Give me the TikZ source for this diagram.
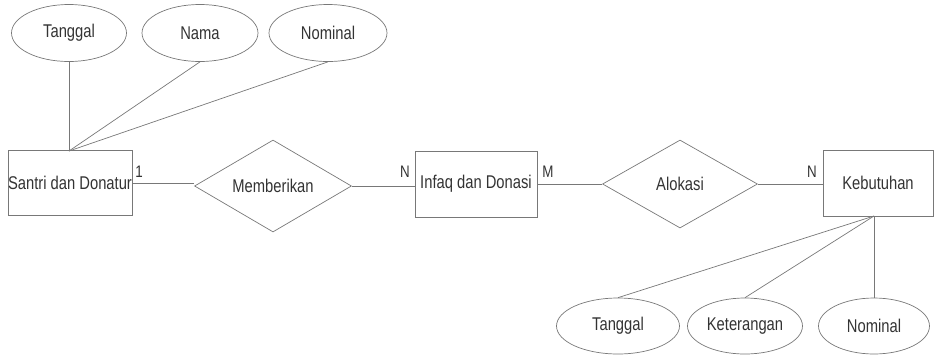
\documentclass[tikz,border=0pt]{standalone}
\usepackage{fontspec}
\setmainfont{Liberation Sans}[FakeStretch=0.8]
\usetikzlibrary{shapes.geometric}
\definecolor{lineg}{RGB}{120,120,120}

\tikzset{
    entity/.style={draw=lineg, rectangle, minimum width=2.42cm, minimum height=1.3cm, inner sep=0pt},
    attrib/.style={draw=lineg, ellipse, minimum height=1.14cm, inner sep=0pt},
    relation/.style={draw=lineg, diamond, aspect=1.7, minimum width=3.12cm, minimum height=1.8cm, inner sep=0pt},
    card/.style={font=\fontsize{9.5}{11}\selectfont, inner sep=0pt},
    conn/.style={draw=lineg}
}

\begin{document}
\begin{tikzpicture}[x=0.02cm, y=-0.02cm, font=\fontsize{10.5}{12}\selectfont, text=black!80]
    \useasboundingbox (0,0) rectangle (934,356);

    % entities
    \node[entity] (santri) at (70,183) {Santri dan Donatur};
    \node[entity, minimum width=2.44cm, minimum height=1.32cm] (infaq) at (476,184) {Infaq dan Donasi};
    \node[entity, minimum width=2.2cm, minimum height=1.32cm] (kebutuhan) at (878,183) {Kebutuhan};

    % relations
    \node[relation, minimum width=3.14cm, minimum height=1.84cm] (memberikan) at (273,186) {Memberikan};
    \node[relation, minimum width=3.1cm, minimum height=1.76cm] (alokasi) at (680,184) {Alokasi};

    % attributes of santri
    \node[attrib, minimum width=2.3cm] (tgl1) at (69,33) {Tanggal};
    \node[attrib, minimum width=2.32cm] (nama) at (200,33) {Nama};
    \node[attrib, minimum width=2.36cm] (nom1) at (328,33) {Nominal};

    % attributes of kebutuhan
    \node[attrib, minimum width=2.46cm, minimum height=1.12cm] (tgl2) at (618,326) {Tanggal};
    \node[attrib, minimum width=2.3cm, minimum height=1.12cm] (ket) at (745,326) {Keterangan};
    \node[attrib, minimum width=2.22cm, minimum height=1.12cm] (nom2) at (874,326) {Nominal};

    % connectors
    \coordinate (stop) at (69,151);
    \coordinate (kbot) at (874,216);
    \draw[conn] (tgl1.south) -- (stop);
    \draw[conn] (nama.south) -- (stop);
    \draw[conn] (nom1.south) -- (stop);
    \draw[conn] (tgl2.north) -- (kbot);
    \draw[conn] (ket.north) -- (kbot);
    \draw[conn] (nom2.north) -- (kbot);

    \draw[conn] (santri.east) -- (santri.east -| memberikan.west);
    \draw[conn] (memberikan.east) -- (memberikan.east -| infaq.west);
    \draw[conn] (infaq.east) -- (infaq.east -| alokasi.west);
    \draw[conn] (alokasi.east) -- (alokasi.east -| kebutuhan.west);

    % cardinality
    \node[card] (c1) at (139,172) {1};
    \node[card] (c2) at (405,172) {N};
    \node[card] (c3) at (548,172) {M};
    \node[card] (c4) at (812,172) {N};
\end{tikzpicture}
\end{document}
